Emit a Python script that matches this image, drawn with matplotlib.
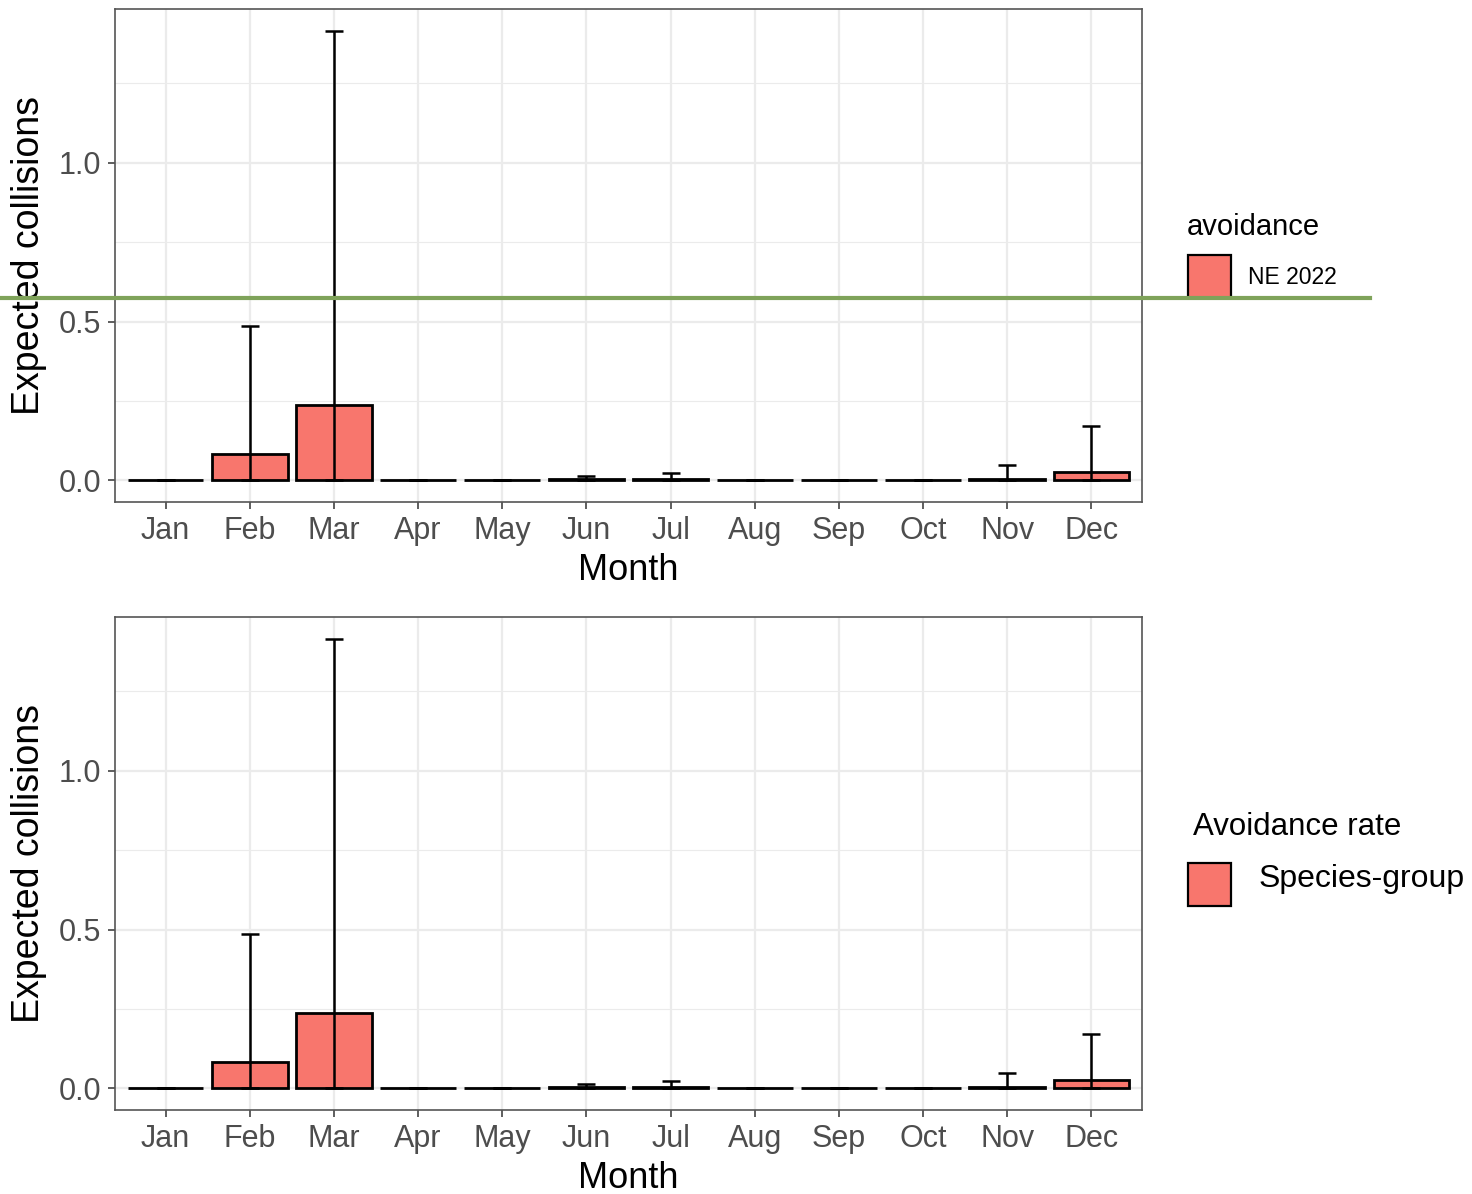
import matplotlib
matplotlib.use("Agg")
import matplotlib.pyplot as plt
import numpy as np
from matplotlib.patches import Rectangle
from matplotlib.lines import Line2D

plt.rcParams['font.family'] = ['Liberation Sans', 'DejaVu Sans']

months = ['Jan', 'Feb', 'Mar', 'Apr', 'May', 'Jun', 'Jul', 'Aug', 'Sep', 'Oct', 'Nov', 'Dec']
collisions = [0.0, 0.082, 0.236, 0.0, 0.0, 0.003, 0.004, 0.0, 0.0, 0.0, 0.005, 0.028]
lower_ci = [0.0] * 12
upper_ci = [0.0, 0.487, 1.415, 0.0, 0.0, 0.013, 0.022, 0.0, 0.0, 0.0, 0.050, 0.170]

legend_titles = ['avoidance', 'Avoidance rate']
legend_labels = ['NE 2022', 'Species-group']

fill = '#F8766D'
W, H = 1472, 1194

fig = plt.figure(figsize=(W / 100, H / 100), dpi=100)


def fx(px):
    return px / W


def fy(py):
    return 1 - py / H


def panel(top_px, bottom_px):
    ax = fig.add_axes([fx(115), fy(bottom_px), fx(1142) - fx(115), fy(top_px) - fy(bottom_px)])
    x = np.arange(len(months))
    vals = np.array(collisions)
    lo = np.array(lower_ci)
    hi = np.array(upper_ci)
    ax.bar(x, vals, width=0.9, color=fill, edgecolor='black', linewidth=2.0, zorder=2)
    ax.errorbar(x, vals, yerr=[vals - lo, hi - vals], fmt='none', ecolor='black',
                elinewidth=1.8, capsize=6.8, capthick=1.8, zorder=3)

    ax.set_xlim(-0.6, 11.6)
    ax.set_ylim(-0.068, 1.484)
    ax.set_xticks(x)
    ax.set_xticklabels(months)
    ax.set_yticks([0.0, 0.5, 1.0])
    ax.set_yticklabels(['0.0', '0.5', '1.0'])
    ax.set_yticks([0.25, 0.75, 1.25], minor=True)
    ax.grid(which='major', color='#EBEBEB', linewidth=1.6, zorder=0)
    ax.grid(which='minor', axis='y', color='#EBEBEB', linewidth=0.8, zorder=0)
    ax.set_axisbelow(True)
    ax.tick_params(which='major', length=5, width=1.1, color='#333333',
                   labelsize=22, labelcolor='#4D4D4D', pad=5)
    ax.tick_params(which='minor', length=0)
    for s in ax.spines.values():
        s.set_color('#555555')
        s.set_linewidth(1.2)
    ax.set_xlabel('Month', fontsize=26, labelpad=5)
    ax.set_ylabel('Expected collisions', fontsize=27, labelpad=8)
    return ax


panel(9, 502)
panel(617, 1110)

# legends drawn by hand at the right of each panel
for title, label, tx, tb, ky, lb in [
    (legend_titles[0], legend_labels[0], 1187, 235, 255, 284),
    (legend_titles[1], legend_labels[1], 1193, 835, 863, 887),
]:
    fig.text(fx(tx), fy(tb), title, fontsize=21 if title == 'avoidance' else 22.5,
             va='baseline', ha='left')
    fig.add_artist(Rectangle((fx(1188), fy(ky + 43)), fx(43), 43 / H,
                             transform=fig.transFigure, facecolor=fill,
                             edgecolor='black', linewidth=1.6))
    lx = 1248 if label == 'NE 2022' else 1259
    fig.text(fx(lx), fy(lb), label, fontsize=16.5 if label == 'NE 2022' else 23,
             va='baseline', ha='left')

fig.add_artist(Line2D([0, fx(1370)], [fy(298), fy(298)], transform=fig.transFigure,
                      color='#7FA35A', linewidth=3))

fig.savefig('out.png', dpi=100)
